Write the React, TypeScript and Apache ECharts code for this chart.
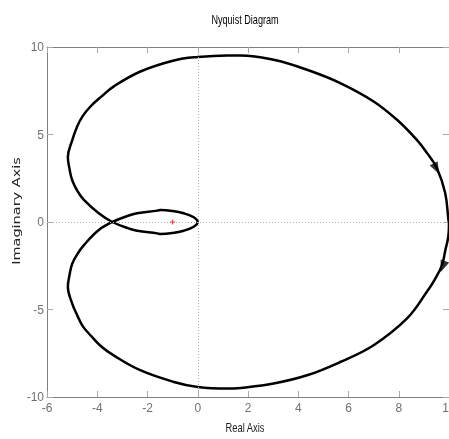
import React, { useEffect, useRef } from "react";
import * as echarts from "echarts";

// Positive-frequency branch: starts at (10,0), goes down, around the bottom, left, through the crossing, small upper loop, to origin
const posRe = [10, 9.98, 9.85, 9.72, 9.45, 9.12, 8.33, 7.0, 5.67, 4.35, 3.02, 1.7, 1.17, 0, -0.95, -2.29, -3.36, -3.85, -4.27, -4.58, -4.8, -5.0, -5.17, -5.1, -5.0, -4.8, -4.53, -3.94, -3.4, -2.68, -2.41, -1.61, -1.48, -1.0, -0.56, -0.16, 0];
const posIm = [0, -0.74, -1.64, -2.46, -3.25, -3.99, -5.51, -7.04, -8.0, -8.76, -9.23, -9.48, -9.52, -9.43, -9.14, -8.47, -7.61, -7.1, -6.47, -5.95, -5.32, -4.65, -3.7, -3.0, -2.4, -1.85, -1.32, -0.46, 0, 0.4, 0.5, 0.65, 0.69, 0.63, 0.5, 0.27, 0];
// Negative-frequency branch: from origin, small lower loop, crossing, big upper loop, back to (10,0)
const negRe = [0, -0.16, -0.56, -1.0, -1.48, -1.61, -2.41, -2.68, -3.4, -3.94, -4.53, -4.8, -5.0, -5.1, -5.17, -5.0, -4.8, -4.58, -4.27, -3.85, -3.34, -2.28, -0.95, 0, 1.17, 1.7, 3.02, 4.35, 5.67, 7.0, 7.93, 8.72, 9.12, 9.52, 9.85, 9.98, 10];
const negIm = [0, -0.27, -0.5, -0.63, -0.69, -0.65, -0.5, -0.4, 0, 0.5, 1.26, 1.8, 2.4, 3.0, 3.7, 4.65, 5.46, 6.05, 6.6, 7.15, 7.75, 8.6, 9.23, 9.43, 9.52, 9.52, 9.27, 8.7, 7.94, 6.89, 5.84, 4.69, 3.95, 3.07, 1.64, 0.1, 0];
// Direction arrows
const arrowRe = [9.5, 9.75];
const arrowIm = [3.05, -2.55];
const arrowRot = [208, 159];
// Critical point
const critRe = [-1];
const critIm = [0];

const xTicks = { min: -6, max: 10, interval: 2 };
const yTicks = { min: -10, max: 10, interval: 5 };

const sans = "'Liberation Sans', Arial, sans-serif";

export default function App() {
  const ref = useRef<HTMLDivElement>(null);
  useEffect(() => {
    if (!ref.current) return;
    const chart = echarts.init(ref.current, null, { renderer: "svg" });
    const curve = posRe.map((x, i) => [x, posIm[i]]).concat(negRe.slice(1).map((x, i) => [x, negIm[i + 1]]));
    const axisLine = { show: true, onZero: false, lineStyle: { color: "#808080", width: 1 } };
    const axisTick = { show: true, inside: true, length: 6, lineStyle: { color: "#a8a8a8" } };
    chart.setOption({
      animation: false,
      grid: { left: 47, top: 47, right: 0, bottom: 42, show: false, outerBoundsMode: "none", containLabel: false },
      graphic: [
        {
          type: "text",
          x: 245,
          y: 19,
          scaleX: 0.7,
          style: { text: "Nyquist Diagram", font: "13px " + sans, fill: "#000", align: "center", verticalAlign: "middle" },
        },
        {
          type: "text",
          x: 245,
          y: 427,
          scaleX: 0.72,
          style: { text: "Real Axis", font: "13px " + sans, fill: "#222", align: "center", verticalAlign: "middle" },
        },
        {
          type: "text",
          x: 16.5,
          y: 211,
          rotation: Math.PI / 2,
          scaleX: 1.45,
          style: { text: "Imaginary Axis", font: "10px 'DejaVu Sans', sans-serif", fill: "#222", align: "center", verticalAlign: "middle" },
        },
      ],
      xAxis: [
        {
          type: "value",
          ...xTicks,
          position: "bottom",
          axisLine,
          axisTick,
          splitLine: { show: false },
          axisLabel: { margin: 5, color: "#707070", fontFamily: sans, fontSize: 12, showMaxLabel: true, showMinLabel: true, hideOverlap: false },
        },
        {
          type: "value",
          ...xTicks,
          position: "top",
          axisLine,
          axisTick,
          splitLine: { show: false },
          axisLabel: { show: false },
        },
      ],
      yAxis: [
        {
          type: "value",
          ...yTicks,
          position: "left",
          axisLine,
          axisTick,
          splitLine: { show: false },
          axisLabel: { margin: 3, color: "#707070", fontFamily: sans, fontSize: 12, showMaxLabel: true, showMinLabel: true, hideOverlap: false },
        },
        {
          type: "value",
          ...yTicks,
          position: "right",
          axisLine,
          axisTick,
          splitLine: { show: false },
          axisLabel: { show: false },
        },
      ],
      series: [
        {
          type: "line",
          data: curve,
          showSymbol: false,
          symbol: "none",
          smooth: 0.4,
          lineStyle: { color: "#000", width: 2.5 },
          z: 3,
          markLine: {
            silent: true,
            symbol: "none",
            label: { show: false },
            lineStyle: { type: [1, 2], color: "#b0b0b0", width: 1 },
            data: [{ xAxis: 0 }, { yAxis: 0 }],
          },
        },
        {
          type: "scatter",
          data: arrowRe.map((x, i) => ({ value: [x, arrowIm[i]], symbolRotate: arrowRot[i] })),
          symbol: "triangle",
          symbolSize: [9, 12],
          itemStyle: { color: "#000" },
          z: 4,
        },
        {
          type: "scatter",
          data: critRe.map((x, i) => [x, critIm[i]]),
          symbol: "path://M2 0H3V2H5V3H3V5H2V3H0V2H2Z",
          symbolSize: 5,
          itemStyle: { color: "#ff0000" },
          z: 5,
        },
      ],
    });
    return () => chart.dispose();
  }, []);
  return <div ref={ref} style={{ position: "fixed", left: 0, top: 0, width: 449, height: 439 }} />;
}
